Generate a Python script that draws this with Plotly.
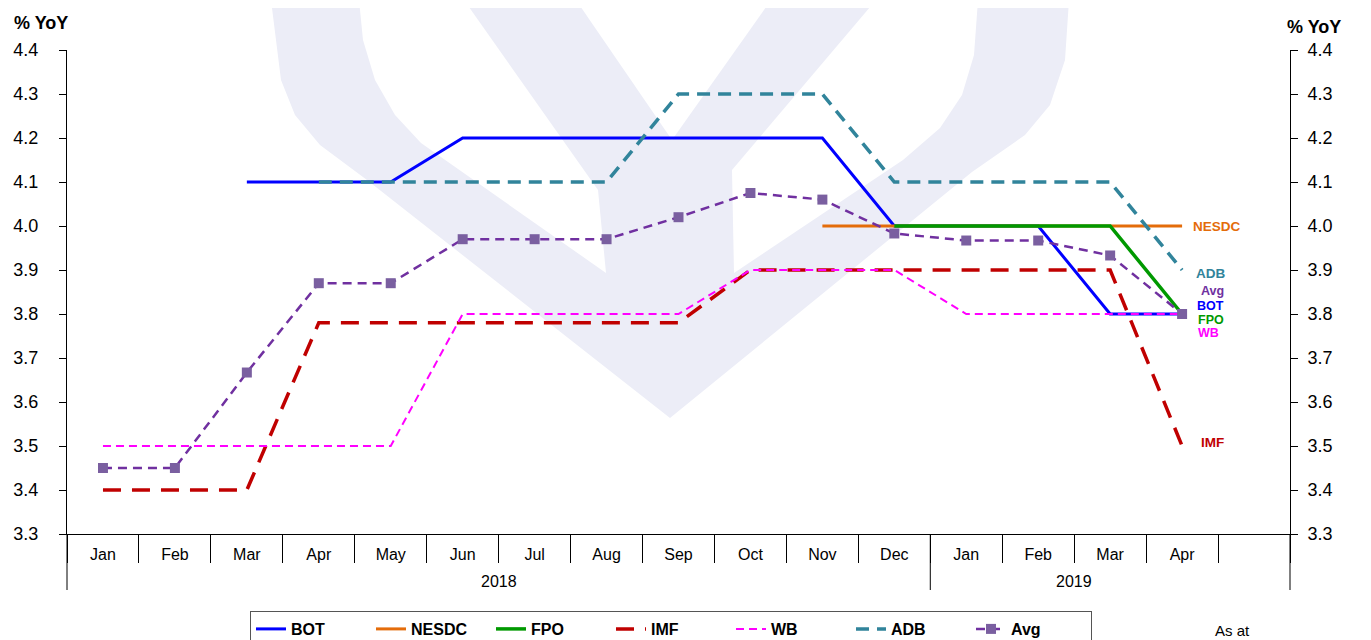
import plotly.graph_objects as go

# ---------------- data ----------------
months = ["Jan", "Feb", "Mar", "Apr", "May", "Jun", "Jul", "Aug", "Sep", "Oct", "Nov", "Dec",
          "Jan", "Feb", "Mar", "Apr", ""]
years = ["2018", "2019"]
year_spans = [(0, 11), (12, 15)]          # first / last month index of each year group

BOT = [None, None, 4.1, 4.1, 4.1, 4.2, 4.2, 4.2, 4.2, 4.2, 4.2, 4.0, 4.0, 4.0, 3.8, 3.8]
NESDC = [None, None, None, None, None, None, None, None, None, None, 4.0, 4.0, 4.0, 4.0, 4.0, 4.0]
FPO = [None, None, None, None, None, None, None, None, None, None, None, 4.0, 4.0, 4.0, 4.0, 3.8]
IMF = [3.4, 3.4, 3.4, 3.78, 3.78, 3.78, 3.78, 3.78, 3.78, 3.9, 3.9, 3.9, 3.9, 3.9, 3.9, 3.5]
WB = [3.5, 3.5, 3.5, 3.5, 3.5, 3.8, 3.8, 3.8, 3.8, 3.9, 3.9, 3.9, 3.8, 3.8, 3.8, 3.8]
ADB = [None, None, None, 4.1, 4.1, 4.1, 4.1, 4.1, 4.3, 4.3, 4.3, 4.1, 4.1, 4.1, 4.1, 3.9]
AVG = [3.45, 3.45, 3.667, 3.87, 3.87, 3.97, 3.97, 3.97, 4.02, 4.075, 4.06, 3.983, 3.967, 3.967, 3.933, 3.8]

y_ticks = [3.3, 3.4, 3.5, 3.6, 3.7, 3.8, 3.9, 4.0, 4.1, 4.2, 4.3, 4.4]

# ---------------- styling ----------------
FONT = "Liberation Sans, Arial, sans-serif"
OFF = 8                                   # page body margin of the html page
W, H = 1371 - OFF, 640 - OFF
PL, PR, PT, PB = 67, 1290, 50, 534        # plot area in screenshot pixels
ML, MT = PL - OFF, PT - OFF
MR = W - (PL - OFF) - (PR - PL)
MB = H - (PT - OFF) - (PB - PT)
PW, PH = PR - PL, PB - PT
N = len(months)

def px(x):
    return (x - PL) / PW

def py(y):
    return (PB - y) / PH

x = list(range(len(BOT)))

series = [
    ("BOT", BOT, dict(color="#0000FF", width=3, dash="solid"), None),
    ("NESDC", NESDC, dict(color="#E46C0A", width=3, dash="solid"), None),
    ("FPO", FPO, dict(color="#009900", width=3.5, dash="solid"), None),
    ("IMF", IMF, dict(color="#C00000", width=3.5, dash="18px,11px"), None),
    ("WB", WB, dict(color="#FF00FF", width=2, dash="8px,5px"), None),
    ("ADB", ADB, dict(color="#31849B", width=3.5, dash="13px,8px"), None),
    ("Avg", AVG, dict(color="#7030A0", width=2.5, dash="9px,6px"),
     dict(symbol="square", size=10, color="#7A5FA0")),
]

fig = go.Figure()
for name, vals, line, marker in series:
    fig.add_trace(go.Scatter(
        x=x, y=vals, name=name, mode="lines+markers" if marker else "lines",
        line=line, marker=marker, connectgaps=False, xaxis="x", yaxis="y",
        hoverinfo="skip"))

# invisible trace to activate the right-hand axis
fig.add_trace(go.Scatter(x=[0], y=[3.3], yaxis="y2", xaxis="x", mode="markers",
                         marker=dict(opacity=0), showlegend=False, hoverinfo="skip"))
# invisible trace for the boundary-tick axis
fig.add_trace(go.Scatter(x=[0], y=[3.3], yaxis="y", xaxis="x2", mode="markers",
                         marker=dict(opacity=0), showlegend=False, hoverinfo="skip"))

# ---------------- watermark (light logo behind the plot) ----------------
LAV = "#ECEDF7"

def path(points):
    return "M" + " L".join(f"{px(a):.5f},{py(b):.5f}" for a, b in points) + " Z"

silhouette = [(271, 0), (1069, 0), (1065, 60), (1050, 105), (1025, 135), (972, 172),
              (670, 418), (367, 180), (320, 145), (295, 115), (281, 80)]
left_gap = [(359, 0), (464, 0), (598, 190), (606, 273), (421, 143), (395, 115), (375, 80), (363, 40)]
top_gap = [(576, 0), (771, 0), (672, 140)]
right_gap = [(876, 0), (978, 0), (974, 55), (962, 95), (940, 128), (903, 160),
             (734, 273), (732, 170)]

shapes = [
    dict(type="path", path=path(silhouette), xref="paper", yref="paper",
         fillcolor=LAV, line=dict(width=0), layer="below"),
]
for g in (left_gap, top_gap, right_gap):
    shapes.append(dict(type="path", path=path(g), xref="paper", yref="paper",
                       fillcolor="white", line=dict(width=0), layer="below"))

# group dividers below the axis
div_bottom = py(590)
for b in [0, 12, N]:
    shapes.append(dict(type="line", xref="paper", yref="paper",
                       x0=b / N, x1=b / N, y0=0, y1=div_bottom,
                       line=dict(color="black", width=1)))

annotations = []
for yr, (a, b) in zip(years, year_spans):
    annotations.append(dict(text=yr, xref="paper", yref="paper",
                            x=((a + b) / 2 + 0.5) / N, y=py(581),
                            showarrow=False, font=dict(family=FONT, size=16, color="black"),
                            xanchor="center", yanchor="middle"))

annotations += [
    dict(text="% YoY", xref="paper", yref="paper", x=px(12), y=py(23), xanchor="left",
         yanchor="middle", showarrow=False,
         font=dict(family=FONT, size=18, color="black", weight="bold")),
    dict(text="% YoY", xref="paper", yref="paper", x=px(1285), y=py(27), xanchor="left",
         yanchor="middle", showarrow=False,
         font=dict(family=FONT, size=18, color="black", weight="bold")),
    dict(text="As at", xref="paper", yref="paper", x=px(1232), y=py(630), xanchor="center",
         yanchor="middle", showarrow=False,
         font=dict(family=FONT, size=15, color="black")),
]

end_labels = [
    ("NESDC", 15.49, 4.0, "#E46C0A", 13.5),
    ("ADB", 15.40, 3.893, "#31849B", 13.5),
    ("Avg", 15.42, 3.853, "#7030A0", 12.5),
    ("BOT", 15.40, 3.819, "#0000FF", 12.5),
    ("FPO", 15.40, 3.786, "#009900", 12.5),
    ("WB", 15.37, 3.756, "#FF00FF", 12.5),
    ("IMF", 15.42, 3.509, "#C00000", 13.5),
]
for t, lx, ly, c, fs in end_labels:
    annotations.append(dict(text=t, x=lx, y=ly, xref="x", yref="y", showarrow=False,
                            xanchor="center", yanchor="middle",
                            font=dict(family=FONT, size=fs, color=c, weight="bold")))

fig.update_layout(
    template="none",
    width=W, height=H,
    margin=dict(l=ML, r=MR, t=MT, b=MB, autoexpand=False),
    paper_bgcolor="white", plot_bgcolor="rgba(0,0,0,0)",
    font=dict(family=FONT, color="black"),
    showlegend=True,
    legend=dict(orientation="h", x=px(671), xanchor="center", y=py(611), yanchor="top",
                bordercolor="#555555", borderwidth=1, bgcolor="white",
                font=dict(family=FONT, size=16, color="black", weight="bold"),
                entrywidth=75, entrywidthmode="pixels",
                traceorder="normal"),
    xaxis=dict(range=[-0.5, N - 0.5], tickmode="array", tickvals=list(range(N)),
               ticktext=months, ticks="outside", ticklen=6, tickcolor="rgba(0,0,0,0)",
               showline=True, linecolor="black", linewidth=1, showgrid=False,
               zeroline=False, tickfont=dict(family=FONT, size=16, color="black"),
               automargin=False, fixedrange=True),
    xaxis2=dict(range=[-0.5, N - 0.5], overlaying="x", side="bottom", anchor="y",
                tickmode="array", tickvals=[i - 0.5 for i in range(N + 1)],
                ticks="outside", ticklen=28, tickcolor="black", tickwidth=1,
                showticklabels=False, showgrid=False, zeroline=False, showline=False,
                automargin=False),
    yaxis=dict(range=[3.3, 4.4], tickmode="array", tickvals=y_ticks,
               ticktext=[f"{v:.1f}" for v in y_ticks], ticks="outside", ticklen=7,
               showline=True, linecolor="black", linewidth=1, tickcolor="black",
               showgrid=False, zeroline=False, ticklabelstandoff=17, automargin=False,
               tickfont=dict(family=FONT, size=18, color="black")),
    yaxis2=dict(range=[3.3, 4.4], overlaying="y", side="right", anchor="x",
                tickmode="array", tickvals=y_ticks,
                ticktext=[f"{v:.1f}" for v in y_ticks], ticks="outside", ticklen=7,
                showline=True, linecolor="black", linewidth=1, tickcolor="black",
                showgrid=False, zeroline=False, ticklabelstandoff=6, automargin=False,
                tickfont=dict(family=FONT, size=18, color="black")),
    shapes=shapes,
    annotations=annotations,
)

fig.write_html("out.html")
